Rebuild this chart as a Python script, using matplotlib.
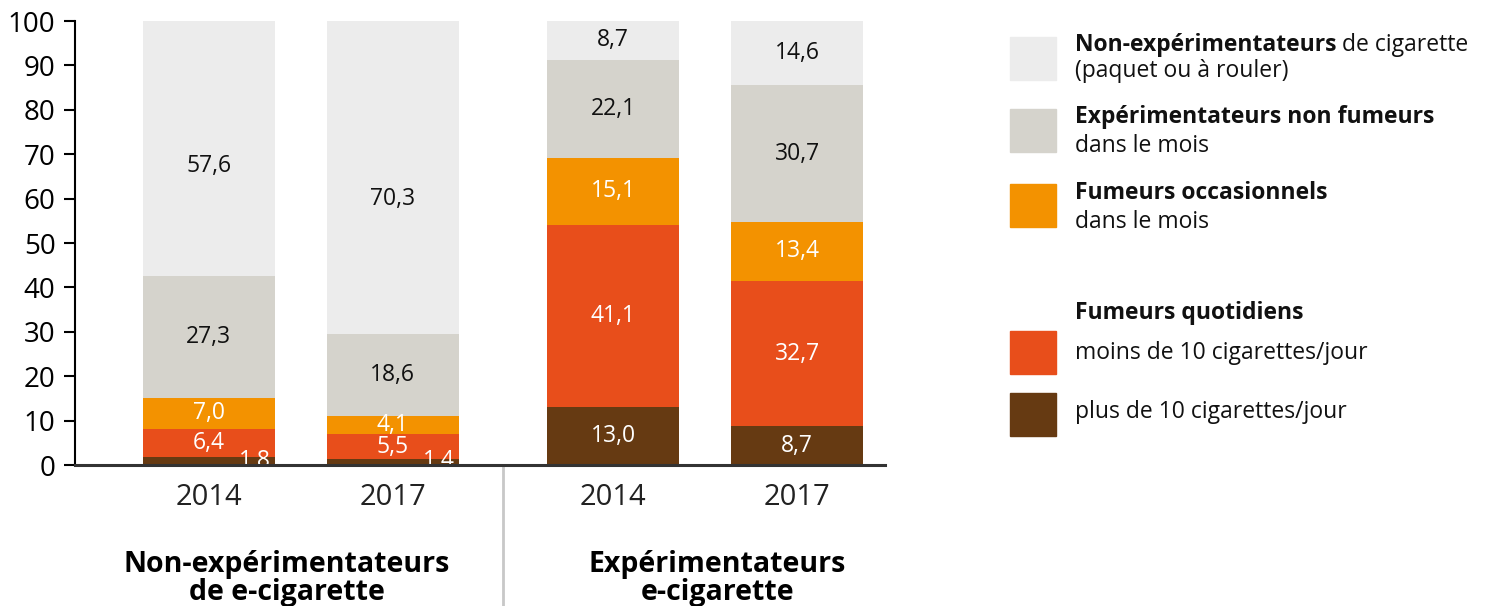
import matplotlib.pyplot as plt
from matplotlib.patches import Rectangle
from matplotlib.lines import Line2D

plt.rcParams['font.family'] = ['Open Sans', 'DejaVu Sans']

# data
bar_years = ["2014", "2017", "2014", "2017"]
bar_pos = [0, 1, 2.2, 3.2]
groups = ["Non-expérimentateurs\nde e-cigarette", "Expérimentateurs\ne-cigarette"]
group_pos = [0.424, 2.766]

# bottom to top
plus10 = [1.8, 1.4, 13.0, 8.7]
moins10 = [6.4, 5.5, 41.1, 32.7]
occasionnels = [7.0, 4.1, 15.1, 13.4]
exp_non_fumeurs = [27.3, 18.6, 22.1, 30.7]
non_exp = [57.6, 70.3, 8.7, 14.6]

series = [plus10, moins10, occasionnels, exp_non_fumeurs, non_exp]
colors = ["#663a12", "#e84e1b", "#f39200", "#d5d3cc", "#ececec"]
label_colors = ["white", "white", "white", "#111111", "#111111"]

# legend entries: (bold part, regular part on first line, second line)
legend_items = [
    ("Non-expérimentateurs", " de cigarette", "(paquet ou à rouler)"),
    ("Expérimentateurs non fumeurs", "", "dans le mois"),
    ("Fumeurs occasionnels", "", "dans le mois"),
]
legend_colors = ["#ececec", "#d5d3cc", "#f39200"]
daily_title = "Fumeurs quotidiens"
daily_items = ["moins de 10 cigarettes/jour", "plus de 10 cigarettes/jour"]
daily_colors = ["#e84e1b", "#663a12"]

W, H = 1488, 606
fig = plt.figure(figsize=(W / 100, H / 100), dpi=100)
ax = fig.add_axes([75 / W, (H - 465) / H, (885 - 75) / W, (465 - 21) / H])

bottoms = [0.0] * 4
for i, vals in enumerate(series):
    ax.bar(bar_pos, vals, width=0.717, bottom=bottoms, color=colors[i], zorder=2)
    for j, v in enumerate(vals):
        txt = f"{v:.1f}".replace(".", ",")
        if v < 3:
            # tiny segments: label pushed to the right, partly under the baseline
            x, y = bar_pos[j] + 0.25, bottoms[j] + 0.9
        elif v > 50:
            x, y = bar_pos[j], bottoms[j] + 0.43 * v
        else:
            x, y = bar_pos[j], bottoms[j] + v / 2
        ax.text(x, y, txt, ha="center", va="center", color=label_colors[i],
                fontsize=16.5, zorder=3)
    bottoms = [b + v for b, v in zip(bottoms, vals)]

ax.set_xlim(-0.728, 3.678)
ax.set_ylim(0, 100)
ax.set_yticks(range(0, 101, 10))
ax.tick_params(axis="y", direction="out", length=8, width=1.5, labelsize=20, pad=6)
for s in ["top", "right", "bottom"]:
    ax.spines[s].set_visible(False)
ax.spines["left"].set_linewidth(1.5)
ax.axhline(0, color="#333333", lw=2.2, zorder=5, clip_on=False)

ax.set_xticks(bar_pos)
ax.set_xticklabels(bar_years, fontsize=21, color="#222222")
ax.tick_params(axis="x", length=0, pad=13)

# separator between groups
ax.add_line(Line2D([1.6, 1.6], [0, -40], color="#c8c8c8", lw=2, clip_on=False))

for g, x in zip(groups, group_pos):
    ax.text(x, -25.5, g, ha="center", va="center", fontsize=20.5, fontweight="bold",
            linespacing=0.95, transform=ax.transData)

# legend drawn by hand
fig.canvas.draw()
renderer = fig.canvas.get_renderer()


def box(y_top, color):
    fig.add_artist(Rectangle((1010 / W, (H - y_top - 43) / H), 46 / W, 43 / H,
                             transform=fig.transFigure, color=color))


def line_text(x, y, s, bold=False):
    return fig.text(x / W, (H - y) / H, s, fontsize=16.5, va="center", ha="left",
                    fontweight="bold" if bold else "normal", color="#111111")


box_tops = [37, 109, 184]
line1_y = [45, 117, 193]
line2_y = [71, 146, 222]
for k, (b, r, l2) in enumerate(legend_items):
    box(box_tops[k], legend_colors[k])
    t = line_text(1075, line1_y[k], b, bold=True)
    if r:
        bb = t.get_window_extent(renderer)
        line_text(bb.x1, line1_y[k], r)
    line_text(1075, line2_y[k], l2)

line_text(1075, 313, daily_title, bold=True)
for k, (lbl, top, ty) in enumerate(zip(daily_items, [331, 393], [353, 412])):
    box(top, daily_colors[k])
    line_text(1075, ty, lbl)

fig.savefig("out.png", dpi=100)
